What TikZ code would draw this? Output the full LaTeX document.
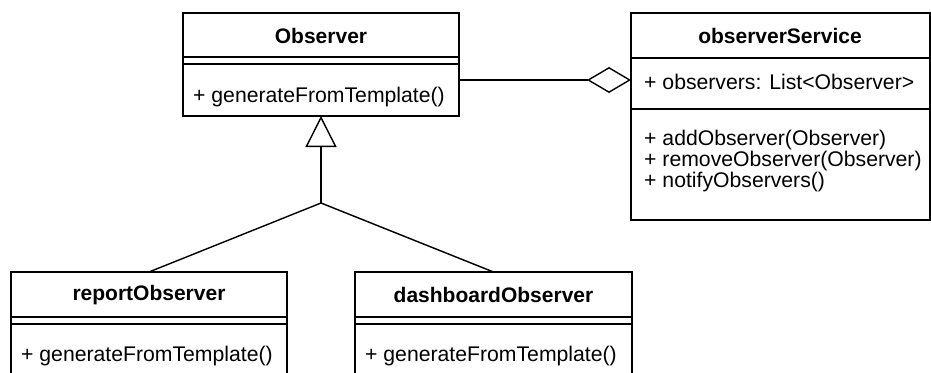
\documentclass[tikz,border=0pt]{standalone}
\usepackage{fontspec}
\setmainfont{Liberation Sans}
\usetikzlibrary{arrows.meta}
\newcommand\umltxtfont{\fontsize{21.2}{20.6}\selectfont\lineskiplimit=-30pt\relax}
\begin{document}
\begin{tikzpicture}[x=1pt,y=-1pt,
  box/.style={draw, line width=1.4pt, anchor=north west, inner sep=0pt, outer sep=0pt},
  sep/.style={line width=1.4pt},
  title/.style={font=\fontsize{21}{19}\selectfont\bfseries, inner sep=0pt},
  txt/.style={font=\umltxtfont, anchor=west, inner sep=0pt},
  edge/.style={line width=1.4pt}]
\useasboundingbox (0,0) rectangle (931,372);
% Observer
\node[box, minimum width=276pt, minimum height=103pt] (obs) at (183,13) {};
\draw[sep] (183,57) -- (459,57) (183,64) -- (459,64);
\node[title] (obsT) at (321,36) {Observer};
\node[txt] (obsM) at (193,97) {+ generateFromTemplate()};
% observerService
\node[box, minimum width=299pt, minimum height=207pt] (srv) at (631,13) {};
\draw[sep] (631,58) -- (930,58) (631,109) -- (930,109);
\node[title] (srvT) at (780,36) {observerService};
\node[txt] (srvA) at (644,82) {+ observers: List<Observer>};
\node[txt, align=left] (srvM) at (644,161) {+ addObserver(Observer)\\+ removeObserver(Observer)\\+ notifyObservers()};
% reportObserver
\node[box, minimum width=276pt, minimum height=120pt] (rep) at (11,272) {};
\draw[sep] (11,317) -- (287,317) (11,324) -- (287,324);
\node[title] (repT) at (149,295) {reportObserver};
\node[txt] (repM) at (21,356) {+ generateFromTemplate()};
% dashboardObserver
\node[box, minimum width=277pt, minimum height=120pt] (dash) at (355,272) {};
\draw[sep] (355,317) -- (632,317) (355,324) -- (632,324);
\node[title] (dashT) at (493.5,295) {dashboardObserver};
\node[txt] (dashM) at (365,356) {+ generateFromTemplate()};
% connectors
\coordinate (lvl) at (0,80);
\draw[edge, -{Diamond[open, length=44pt, width=26pt]}] (obs.east |- lvl) -- (srv.west |- lvl);
\coordinate (junc) at (321,203);
\draw[edge, -{Triangle[open, length=31pt, width=31pt]}] (junc) -- (obs.south);
\draw[edge] (junc) -- (rep.north);
\draw[edge] (junc) -- (dash.north);
\end{tikzpicture}
\end{document}
